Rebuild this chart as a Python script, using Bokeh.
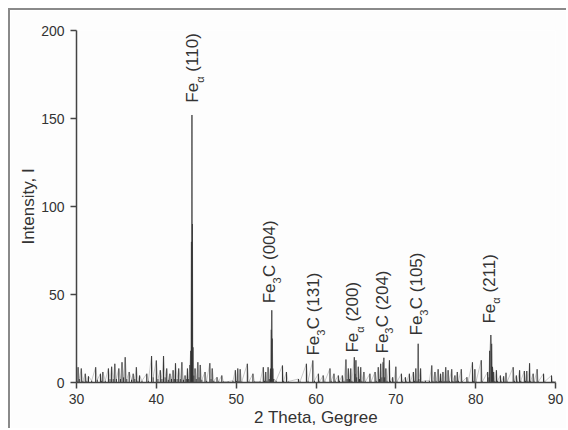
import math
from bokeh.plotting import figure
from bokeh.models import ColumnDataSource, Range1d, Spacer
from bokeh.layouts import column, row
from bokeh.core.properties import value
from bokeh.embed import file_html
from bokeh.resources import INLINE

two_theta = [
    30.0, 30.05, 30.2, 30.35, 30.6, 30.8, 31.1, 31.3, 31.5, 31.9, 32.4, 32.6, 33.0, 33.15, 33.3, 33.6,
    34.0, 34.2, 34.4, 34.6, 34.8, 35.0, 35.3, 35.5, 35.7, 35.9, 36.1, 36.3, 36.6, 36.9, 37.1, 37.3, 37.5, 37.7, 37.9,
    38.2, 38.8, 39.0, 39.4, 39.6, 40.0, 40.2, 40.5, 40.7, 40.9, 41.1, 41.3, 41.5, 41.7, 41.9,
    42.1, 42.25, 42.4, 42.6, 42.8, 43.0, 43.2, 43.4, 43.6, 43.75, 43.9, 44.05,
    44.2, 44.3, 44.4, 44.46, 44.52, 44.6, 44.7, 44.85, 45.0, 45.2, 45.35, 45.5, 45.7,
    46.1, 46.3, 46.7, 46.85, 47.0, 47.2, 47.6, 47.8, 48.2, 48.4, 49.0, 49.6, 49.9, 50.05, 50.2, 50.35, 50.5, 50.7,
    51.4, 51.6, 52.1, 52.3, 53.0, 53.4, 53.55, 53.7, 53.85, 54.0, 54.15,
    54.3, 54.4, 54.46, 54.52, 54.6, 54.7, 55.0, 55.8, 55.95, 56.3, 56.5, 57.8, 58.0, 58.8, 59.0, 59.6, 59.8,
    60.3, 60.45, 60.9, 61.1, 61.75, 61.9, 62.25, 62.4, 62.8, 62.95, 63.3, 63.5,
    63.75, 63.9, 64.05, 64.2, 64.35, 64.5, 64.8, 64.9, 65.0, 65.1, 65.3, 65.45, 65.6, 65.75, 66.0, 66.2, 66.75, 66.9,
    67.4, 67.55, 67.8, 67.95, 68.1, 68.25, 68.4, 68.5, 68.6, 68.75, 68.9, 69.2, 69.35, 69.6, 69.75, 70.0, 70.15, 70.7, 70.85,
    71.2, 71.35, 71.7, 71.85, 72.2, 72.35, 72.5, 72.65, 72.8, 72.9, 73.1, 73.25, 73.7, 74.2,
    74.5, 74.65, 74.9, 75.05, 75.3, 75.45, 75.6, 75.75, 75.9, 76.05, 76.25, 76.4, 76.55, 76.7, 77.0, 77.15, 77.4, 77.55, 77.7, 77.85, 78.2, 78.35,
    78.9, 79.05, 79.6, 79.75, 79.9, 80.05, 80.7, 80.85,
    81.5, 81.65, 81.75, 81.9, 82.0, 82.1, 82.25, 82.4, 82.6, 82.75, 83.1, 83.25, 83.5, 83.65, 83.8, 83.95,
    84.7, 84.85, 85.1, 85.25, 85.5, 85.65, 86.1, 86.25, 86.4, 86.55, 86.75, 86.9, 87.2, 87.35, 87.7, 87.85, 88.5, 88.65, 89.5, 89.65, 90.0,
]
intensity = [
    0.5, 1, 8.7, 2, 8, 1, 5, 1, 3.5, 1, 8.7, 1.5, 5, 1, 6, 1,
    8, 2, 9, 2, 10.6, 2, 8, 2, 11.5, 3, 14.4, 2, 6, 1.5, 5, 2, 8.7, 1, 4,
    1, 5, 1, 15, 3, 12.5, 2, 7, 2, 15, 3, 8, 1.5, 5, 2,
    7, 2, 11, 2, 8, 2, 11.5, 1.5, 4, 2, 8, 2,
    10, 18, 80, 152, 90, 20, 4, 8, 2, 11.5, 3, 10, 1.5,
    6, 1, 11, 2, 8, 1, 3, 0.5, 4, 0.5, 0.5, 1, 7, 1, 8, 1, 7.5, 0.5,
    10.6, 0.5, 5, 0.5, 0.5, 8.7, 1, 6, 1, 8.7, 2,
    8, 30, 41, 25, 8, 2, 1, 9.7, 1, 6, 0.5, 2, 0.5, 10.6, 1, 12.5, 1,
    5, 0.5, 4, 0.5, 8, 1, 5, 1, 4, 1, 4, 1,
    13, 2, 8, 2, 8, 1, 14.4, 5, 12.6, 3, 9, 2, 8.7, 1, 6, 0.5, 5, 0.5,
    6, 1, 8.7, 2, 10.6, 3, 11.5, 14, 3, 8, 1, 12.6, 1, 3, 0.5, 9, 0.5, 5, 0.5,
    3, 0.5, 5, 0.5, 6, 1, 8, 1, 22, 2, 8, 0.5, 1, 1,
    9.7, 1, 6, 1, 7.5, 1, 5, 1, 6, 1, 8.7, 1, 7, 1, 7.5, 1, 4, 1, 6, 1, 7.5, 0.5,
    3, 0.5, 11.5, 1, 7.5, 0.5, 12.6, 0.5,
    6, 3, 18, 27, 22, 9, 6, 1, 7, 1, 4, 0.5, 3.5, 0.5, 5.5, 0.5,
    8.7, 1, 4, 0.5, 7, 1, 6.5, 1, 6.5, 1, 11, 1, 5, 0.5, 7.5, 0.5, 5, 0.5, 4, 0.5, 0.5,
]
assert len(two_theta) == len(intensity)

label_theta = [44.55, 54.2, 59.7, 64.6, 68.3, 72.6, 81.7]
label_intensity = [159, 45, 15.3, 17, 16.5, 26.7, 33.5]
label_main = ["Fe", "Fe", "Fe", "Fe", "Fe", "Fe", "Fe"]
label_sub = ["α", "3", "3", "α", "3", "3", "α"]
label_rest = ["\u00a0(110)", "C\u00a0(004)", "C\u00a0(131)", "\u00a0(200)",
              "C\u00a0(204)", "C\u00a0(105)", "\u00a0(211)"]

x_ticks = [30, 40, 50, 60, 70, 80, 90]
y_ticks = [0, 50, 100, 150, 200]
x_title = "2 Theta, Gegree"
y_title = "Intensity, I"

FONT = "Liberation Sans"
TXT = "#333333"
AX = "#444444"

p = figure(width=558, height=420, output_backend="svg", toolbar_location=None,
           x_range=Range1d(30, 90), y_range=Range1d(0, 200),
           min_border_left=66, min_border_right=13, min_border_top=20, min_border_bottom=48)
p.styles = {"border-top": "2px solid #8a8a8a", "border-left": "2px solid #8a8a8a"}
p.background_fill_color = "#fdfdfd"
p.border_fill_color = "#fdfdfd"
p.outline_line_color = None
p.grid.visible = False

spec = ColumnDataSource(dict(x=two_theta, y=intensity, y0=[0] * len(intensity)))
p.segment(x0="x", y0="y0", x1="x", y1="y", source=spec, line_color="#333333", line_width=1.1)
p.line(x="x", y="y", source=spec, line_color="#555555", line_width=0.6, line_alpha=0.5)

src_main = ColumnDataSource(dict(x=label_theta, y=label_intensity, t=label_main))
src_sub = ColumnDataSource(dict(x=label_theta, y=label_intensity, t=label_sub))
src_rest = ColumnDataSource(dict(x=label_theta, y=label_intensity, t=label_rest))
common = dict(angle=math.pi / 2, text_align="left", text_baseline="middle",
              text_font=value(FONT), text_color=TXT)
p.text(x="x", y="y", text="t", source=src_main, text_font_size="17px", **common)
p.text(x="x", y="y", text="t", source=src_sub, text_font_size="11px",
       x_offset=7, y_offset=-19.8, **common)
p.text(x="x", y="y", text="t", source=src_rest, text_font_size="17px",
       y_offset=-26.3, **common)

for ax in (p.xaxis[0], p.yaxis[0]):
    ax.axis_line_color = AX
    ax.axis_line_width = 1.5
    ax.major_tick_line_color = AX
    ax.minor_tick_line_color = AX
    ax.major_tick_line_width = 1.5
    ax.major_tick_in = 0
    ax.major_tick_out = 6
    ax.minor_tick_in = 0
    ax.minor_tick_out = 3
    ax.major_label_text_font = FONT
    ax.major_label_text_font_size = "14px"
    ax.major_label_text_color = TXT
    ax.axis_label_text_font = FONT
    ax.axis_label_text_font_size = "17px"
    ax.axis_label_text_font_style = "normal"
    ax.axis_label_text_color = TXT

p.xaxis.ticker = x_ticks
p.yaxis.ticker = y_ticks
p.xaxis[0].ticker.num_minor_ticks = 2
p.yaxis[0].ticker.num_minor_ticks = 2
p.xaxis.axis_label = x_title
p.yaxis.axis_label = y_title
p.xaxis.major_label_standoff = 5
p.xaxis.axis_label_standoff = 1
p.yaxis.major_label_standoff = 6
p.yaxis.axis_label_standoff = 0

layout = column(Spacer(height=8), row(Spacer(width=8), p))
open("out.html", "w").write(file_html(layout, INLINE))
